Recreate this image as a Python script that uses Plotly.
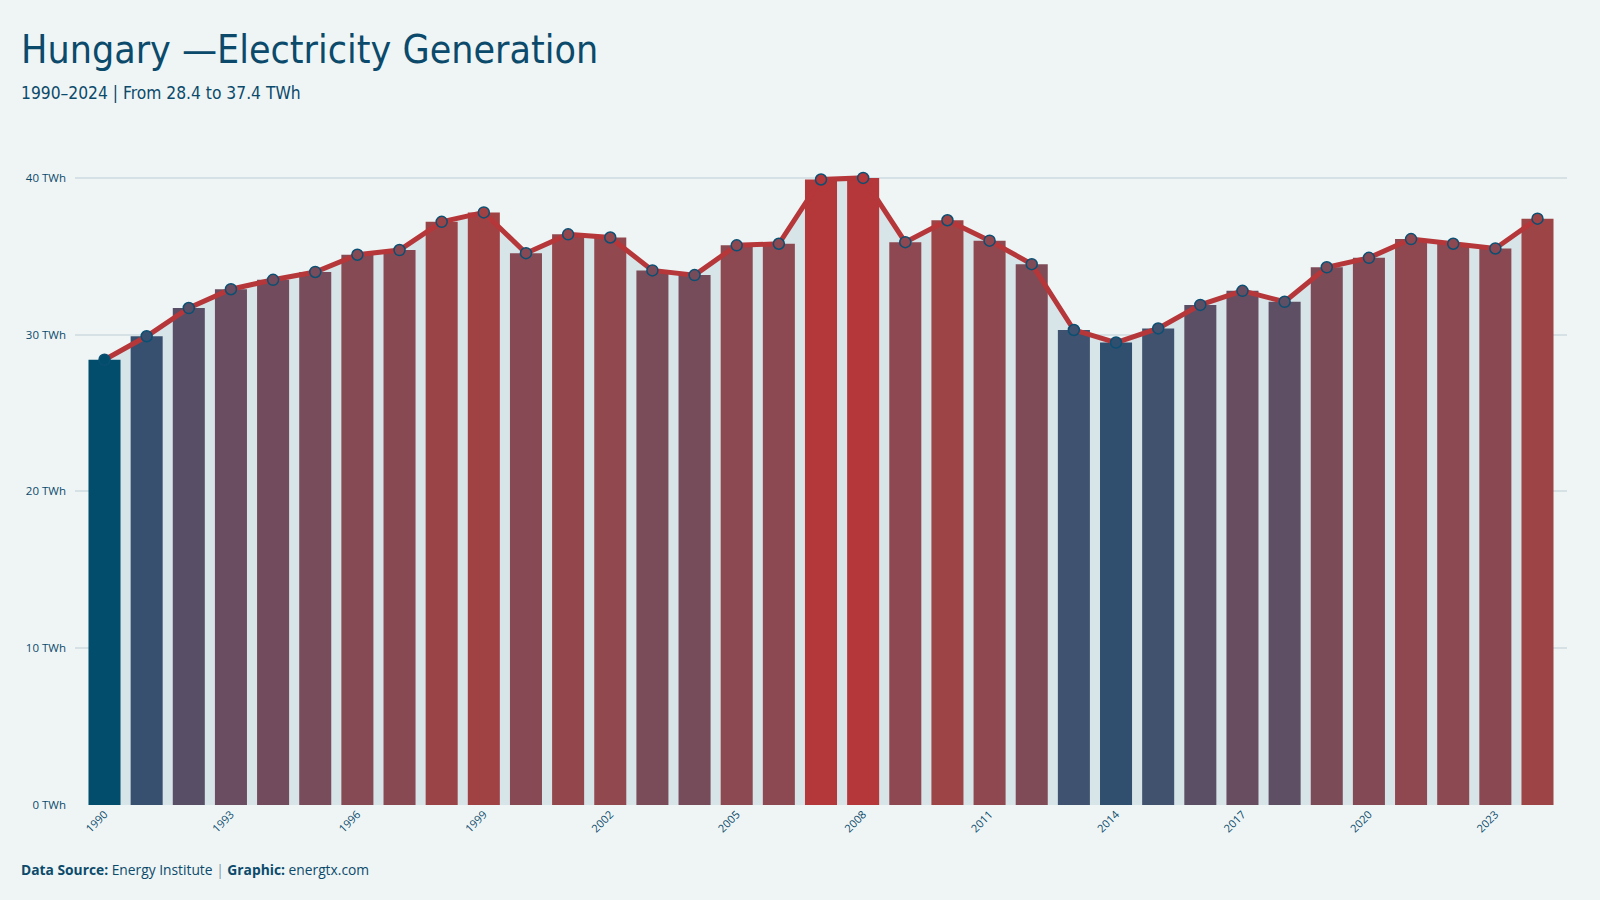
import plotly.graph_objects as go

years = list(range(1990, 2025))
generation_twh = [28.4, 29.9, 31.7, 32.9, 33.5, 34.0, 35.1, 35.4, 37.2, 37.8,
                  35.2, 36.4, 36.2, 34.1, 33.8, 35.7, 35.8, 39.9, 40.0, 35.9,
                  37.3, 36.0, 34.5, 30.3, 29.5, 30.4, 31.9, 32.8, 32.1, 34.3,
                  34.9, 36.1, 35.8, 35.5, 37.4]
x_tick_years = list(range(1990, 2025, 3))
y_tick_values = [0, 10, 20, 30, 40]
y_tick_labels = ["0 TWh", "10 TWh", "20 TWh", "30 TWh", "40 TWh"]

BG = "#eff5f5"
DARK = "#0b4a6b"
RED = "#b5373a"
X_RANGE = [1989.3, 2024.7]
Y_RANGE = [0, 42.1]

colorscale = [
    [0.0, "#024d6b"], [0.095, "#304f6e"], [0.164, "#3f5270"], [0.30, "#5b4f66"],
    [0.39, "#6a4d60"], [0.48, "#784c5a"], [0.58, "#864a54"], [0.66, "#904850"],
    [0.77, "#9c4446"], [1.0, "#b5373a"],
]
cmin, cmax = min(generation_twh), max(generation_twh)

fig = go.Figure()
# area underneath (base axes)
fig.add_trace(go.Scatter(
    x=years, y=generation_twh, mode="lines", fill="tozeroy",
    fillcolor="#d7e4e8", line=dict(width=0), hoverinfo="skip", showlegend=False,
    xaxis="x", yaxis="y"))
# bars and line on overlay axes (drawn above the area)
fig.add_trace(go.Bar(
    x=years, y=generation_twh, showlegend=False, xaxis="x2", yaxis="y2",
    marker=dict(color=generation_twh, colorscale=colorscale, cmin=cmin, cmax=cmax,
                line=dict(width=0))))
fig.add_trace(go.Scatter(
    x=years, y=generation_twh, mode="lines+markers", showlegend=False,
    xaxis="x2", yaxis="y2",
    line=dict(color=RED, width=5),
    marker=dict(size=11, color=generation_twh, colorscale=colorscale, cmin=cmin, cmax=cmax,
                line=dict(color="#0b4f72", width=1.5))))

TITLE_FONT = "Liberation Sans Narrow, DejaVu Sans Condensed, Roboto"

fig.update_layout(
    width=1600, height=900,
    paper_bgcolor=BG, plot_bgcolor=BG,
    margin=dict(l=75, r=33, t=145, b=95),
    bargap=0.24,
    font=dict(family="Open Sans, Noto Sans, sans-serif", color=DARK),
    xaxis=dict(range=X_RANGE, tickmode="array", tickvals=x_tick_years,
               ticktext=[str(y) for y in x_tick_years], tickangle=-45,
               tickfont=dict(size=11, color=DARK), showgrid=False, zeroline=False,
               showline=False, ticks=""),
    yaxis=dict(range=Y_RANGE, tickmode="array", tickvals=y_tick_values,
               ticktext=y_tick_labels, tickfont=dict(size=11.5, color=DARK),
               showgrid=True, gridcolor="#d5e1e5", gridwidth=1.5, zeroline=False,
               ticklabelstandoff=8),
    xaxis2=dict(range=X_RANGE, overlaying="x", matches="x", visible=False,
                showgrid=False, zeroline=False),
    yaxis2=dict(range=Y_RANGE, overlaying="y", matches="y", visible=False,
                showgrid=False, zeroline=False),
    annotations=[
        dict(text="Hungary —Electricity Generation", xref="paper", yref="paper",
             x=-0.0375, y=(805 - 50) / 660, xanchor="left", yanchor="middle", showarrow=False,
             font=dict(family=TITLE_FONT, size=39, color=DARK)),
        dict(text="1990–2024 | From 28.4 to 37.4 TWh", xref="paper", yref="paper",
             x=-0.0375, y=(805 - 93) / 660, xanchor="left", yanchor="middle", showarrow=False,
             font=dict(family=TITLE_FONT, size=17.3, color=DARK)),
        dict(text="<b>Data Source:</b> Energy Institute <span style='color:#7a98a8'>|</span> <b>Graphic:</b> energtx.com",
             xref="paper", yref="paper", x=-0.0375, y=(805 - 869) / 660,
             xanchor="left", yanchor="middle", showarrow=False,
             font=dict(family="Open Sans, Noto Sans, sans-serif", size=13.8, color=DARK)),
    ],
)

fig.write_html("out.html")
